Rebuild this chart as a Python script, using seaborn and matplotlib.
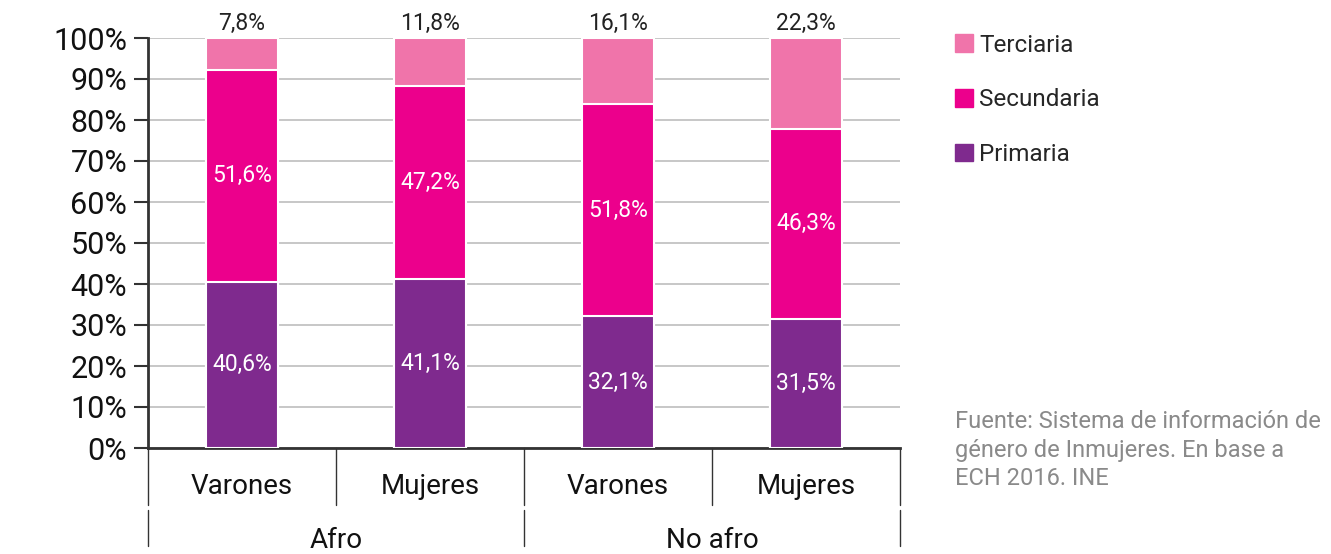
import numpy as np
import pandas as pd
import matplotlib
matplotlib.use("Agg")
import matplotlib.pyplot as plt
import seaborn as sns
from matplotlib.patches import Patch

# data
grupos = ["Afro", "No afro"]
sexos = ["Varones", "Mujeres", "Varones", "Mujeres"]
claves = ["Afro-Varones", "Afro-Mujeres", "NoAfro-Varones", "NoAfro-Mujeres"]
primaria = [40.6, 41.1, 32.1, 31.5]
secundaria = [51.6, 47.2, 51.8, 46.3]
terciaria = [7.8, 11.8, 16.1, 22.3]

colores = {"Primaria": "#7f2a8e", "Secundaria": "#ec008c", "Terciaria": "#f074aa"}

df = pd.DataFrame({"clave": claves, "Primaria": primaria,
                   "Secundaria": secundaria, "Terciaria": terciaria})
df["hasta_sec"] = df["Primaria"] + df["Secundaria"]
df["total"] = df["hasta_sec"] + df["Terciaria"]

sns.set_style("white")
plt.rcParams["font.family"] = ["Roboto", "DejaVu Sans"]

fig = plt.figure(figsize=(13.31, 5.54), dpi=100)
ax = fig.add_axes([148/1331, 1-448/554, 752/1331, 410/554])

# stacked bars, drawn as cumulative layers
for col, c in [("total", colores["Terciaria"]), ("hasta_sec", colores["Secundaria"]),
               ("Primaria", colores["Primaria"])]:
    sns.barplot(data=df, x="clave", y=col, color=c, width=0.38, saturation=1,
                edgecolor="white", linewidth=1.5, ax=ax, zorder=3)

ax.set_ylim(0, 100)
ax.set_xlim(-0.5, 3.5)
ax.set_yticks(np.arange(0, 101, 10))
ax.set_yticklabels([f"{v}%" for v in range(0, 101, 10)], fontsize=22, color="#111")
ax.yaxis.grid(True, color="#bdbdbd", lw=1.2, zorder=0)
ax.set_axisbelow(True)
ax.tick_params(axis="y", length=10, width=1.5, color="#333", pad=5, left=True)
ax.set_xticks([])
ax.set_xlabel("")
ax.set_ylabel("")
for s in ["top", "right"]:
    ax.spines[s].set_visible(False)
for s in ["left", "bottom"]:
    ax.spines[s].set_color("#333")
    ax.spines[s].set_linewidth(2)

# value labels
for i in range(len(claves)):
    ax.text(i, primaria[i] / 2, f"{primaria[i]:.1f}%".replace(".", ","),
            ha="center", va="center", color="white", fontsize=16.5, zorder=5)
    ax.text(i, primaria[i] + secundaria[i] / 2, f"{secundaria[i]:.1f}%".replace(".", ","),
            ha="center", va="center", color="white", fontsize=16.5, zorder=5)
    ax.text(i, 100.8, f"{terciaria[i]:.1f}%".replace(".", ","),
            ha="center", va="bottom", color="#222", fontsize=16.5, zorder=5)

# two-level category axis
tr = ax.get_xaxis_transform()
for x in [-0.5, 0.5, 1.5, 2.5, 3.5]:
    ax.plot([x, x], [0, -0.139], transform=tr, color="#333", lw=1, clip_on=False)
for x in [-0.5, 1.5, 3.5]:
    ax.plot([x, x], [-0.151, -0.24], transform=tr, color="#333", lw=1, clip_on=False)
for i, s in enumerate(sexos):
    ax.text(i, -0.095, s, transform=tr, ha="center", va="center", fontsize=20, color="#111")
for j, g in enumerate(grupos):
    ax.text(2 * j + 0.5, -0.225, g, transform=tr, ha="center", va="center",
            fontsize=20, color="#111")

# legend
handles = [Patch(color=colores[k], label=k) for k in ["Terciaria", "Secundaria", "Primaria"]]
fig.legend(handles=handles, loc="upper left", bbox_to_anchor=(933/1331, 1-12/554),
           frameon=False, fontsize=17.5, handlelength=0.75, handleheight=0.75,
           handletextpad=0.25, labelspacing=1.3)

fig.text(955/1331, 1-450/554, "Fuente: Sistema de información de\ngénero de Inmujeres. En base a\nECH 2016. INE",
         ha="left", va="center", fontsize=17, color="#8a8a8a", linespacing=1.3)

fig.savefig("out.png", dpi=100)
